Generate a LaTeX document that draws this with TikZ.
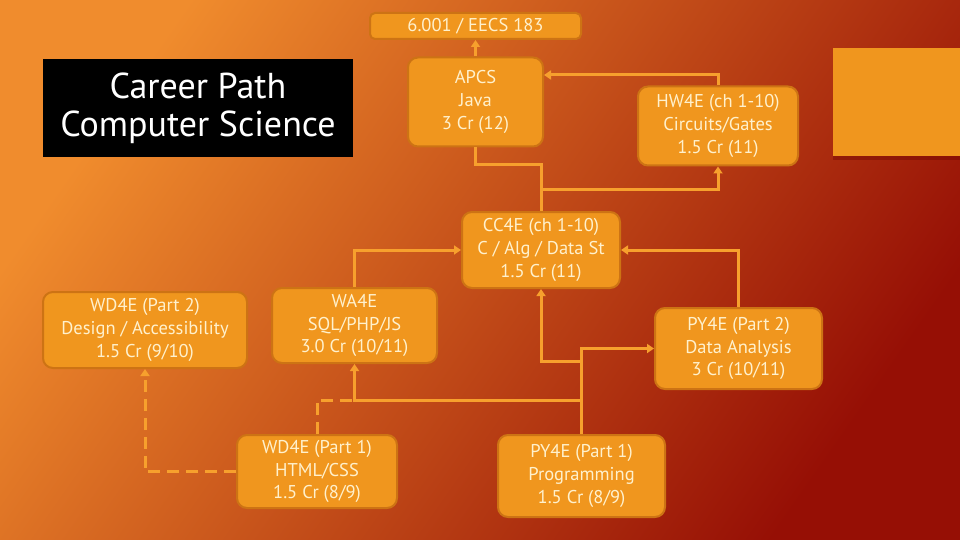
\documentclass[tikz,border=0pt]{standalone}
\usepackage{fontspec}
\setmainfont{PT Sans}
\usetikzlibrary{arrows.meta,calc}
\definecolor{bgA}{RGB}{240,140,45}
\definecolor{bgM}{RGB}{214,84,22}
\definecolor{bgB}{RGB}{150,15,5}
\definecolor{boxfill}{RGB}{240,150,30}
\definecolor{boxline}{RGB}{205,115,20}
\definecolor{txt}{RGB}{255,241,205}
\definecolor{conn}{RGB}{247,160,45}
\begin{document}
\begin{tikzpicture}[x=1pt,y=-1pt,
  card/.style={draw=boxline, line width=2pt, fill=boxfill, rounded corners=10pt,
    text=txt, align=center, font=\fontsize{18.5}{22.7}\selectfont, inner sep=0pt},
  wire/.style={draw=conn, line width=3pt},
  link/.style={wire, -{Triangle[width=9pt,length=7pt]}},
  dashwire/.style={wire, dash pattern=on 12pt off 7pt}]
\shade[top color=bgA, middle color=bgM, bottom color=bgB, shading angle=55] (0,0) rectangle (960,540);
\useasboundingbox (0,0) rectangle (960,540);

% decorative rectangle right
\fill[black!60!red, opacity=0.35] (833,52) rectangle (960,160);
\node[fill=boxfill, minimum width=127pt, minimum height=108pt, inner sep=0pt, anchor=north west] (deco) at (833,48) {};

% title
\node[fill=black, text=white, minimum width=310pt, minimum height=98pt, align=center,
  font=\fontsize{36}{38}\selectfont, inner sep=0pt] (title) at (198,108) {Career Path\\Computer Science};

% boxes
\node[card, rounded corners=5pt, minimum width=211pt, minimum height=26pt] (top) at (475.5,26) {6.001 / EECS 183};
\node[card, minimum width=135pt, minimum height=89pt] (apcs) at (475.5,102) {APCS\\Java\\3 Cr (12)};
\node[card, minimum width=160pt, minimum height=79pt] (hw4e) at (718,126) {HW4E (ch 1-10)\\Circuits/Gates\\1.5 Cr (11)};
\node[card, minimum width=158pt, minimum height=76pt] (cc4e) at (541,250) {CC4E (ch 1-10)\\C / Alg / Data St\\1.5 Cr (11)};
\node[card, minimum width=204pt, minimum height=76pt] (wd2) at (145,330) {WD4E (Part 2)\\Design / Accessibility\\1.5 Cr (9/10)};
\node[card, minimum width=165pt, minimum height=75pt] (wa4e) at (354.5,325.5) {WA4E\\SQL/PHP/JS\\3.0 Cr (10/11)};
\node[card, minimum width=160pt, minimum height=73pt] (wd1) at (317,471.5) {WD4E (Part 1)\\HTML/CSS\\1.5 Cr (8/9)};
\node[card, minimum width=167pt, minimum height=81pt] (py2) at (738.5,348.5) {PY4E (Part 2)\\Data Analysis\\3 Cr (10/11)};
\node[card, minimum width=167pt, minimum height=82pt] (py1) at (581.5,476) {PY4E (Part 1)\\Programming\\1.5 Cr (8/9)};

% junctions
\coordinate (j1) at (718,75);
\coordinate (k1) at (541,165);
\coordinate (k2) at (541,189);
\coordinate (m1) at (581.5,361);
\coordinate (m2) at (581.5,400);

% connectors
\draw[link] (apcs.north) -- (top.south);
\draw[link] (hw4e.north) -- (j1) -- (apcs.east |- j1);
\draw[wire] (cc4e.north) -- (k1) -| (apcs.south);
\draw[link] (k2) -| (hw4e.south);
\draw[link] (wa4e.north) |- (cc4e.west);
\draw[link] (py2.north) |- (cc4e.east);
\draw[link] (py1.north) |- (py2.west);
\draw[link] (m1) -| (cc4e.south);
\draw[link] (m2) -| (wa4e.south);
\draw[dashwire] (wd1.north) |- (wa4e.south |- m2);
\draw[dashwire, -{Triangle[width=9pt,length=7pt]}] (wd1.west) -| (wd2.south);
\end{tikzpicture}
\end{document}
